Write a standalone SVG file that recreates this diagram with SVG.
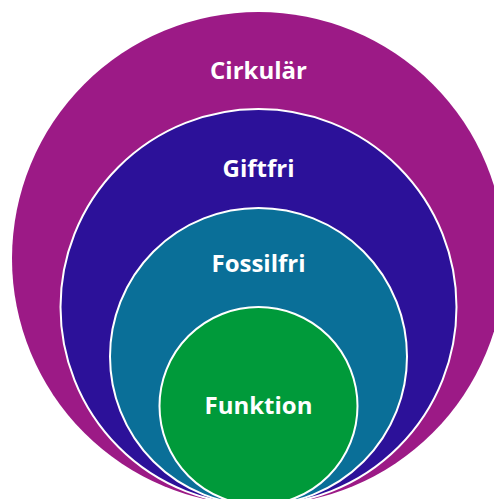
<svg xmlns="http://www.w3.org/2000/svg" width="494" height="499" viewBox="0 0 494 499">
<style>
.c{stroke:#ffffff;stroke-width:2}
.t{font-family:"Open Sans","Noto Sans","Liberation Sans",sans-serif;font-weight:bold;font-size:24px;fill:#ffffff;text-anchor:middle}
</style>
<rect width="494" height="499" fill="#ffffff"/>
<g id="cirkular">
<circle cx="258.5" cy="258.5" r="246.5" fill="#9C1A86"/>
<text class="t" x="258.5" y="79">Cirkulär</text>
</g>
<g id="giftfri">
<circle class="c" cx="258.5" cy="307" r="198" fill="#2C1199"/>
<text class="t" x="258.5" y="177">Giftfri</text>
</g>
<g id="fossilfri">
<circle class="c" cx="258.5" cy="356.5" r="148.5" fill="#0A6F98"/>
<text class="t" x="258.5" y="272">Fossilfri</text>
</g>
<g id="funktion">
<circle class="c" cx="258.5" cy="406" r="99" fill="#009A3A"/>
<text class="t" x="258.5" y="414">Funktion</text>
</g>
<g id="connectors"/>
</svg>
